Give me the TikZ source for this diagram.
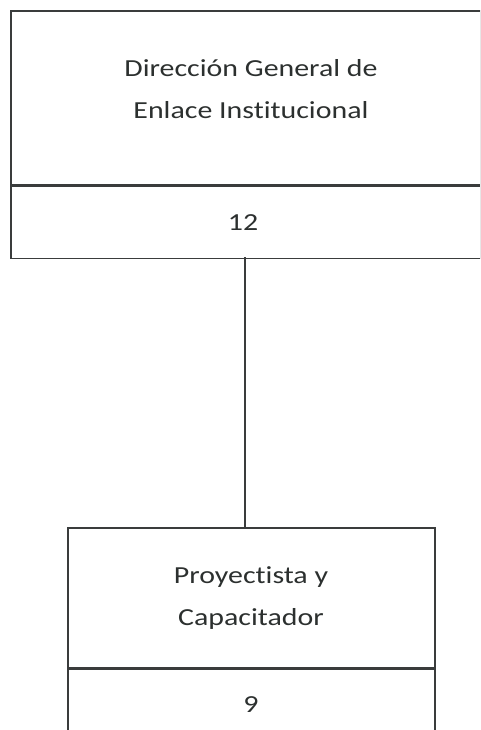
\documentclass[tikz,border=0pt]{standalone}
\usepackage{fontspec}
\setmainfont{Carlito}[FakeStretch=1.22, Ligatures=NoCommon]
\usepackage{xcolor}
\usepackage{tikz}
\definecolor{boxLine}{HTML}{3A3C3C}
\definecolor{boxText}{HTML}{2C302F}
\begin{document}
\begin{tikzpicture}[x=1pt,y=-1pt,
			cellBox/.style={shape=rectangle, draw=boxLine, line width=1.6pt, inner sep=0pt},
			cellText/.style={text=boxText, align=center, font=\fontsize{24.5}{42}\selectfont, inner sep=0pt},
			linkLine/.style={draw=boxLine, line width=1.6pt}]
\useasboundingbox (0,0) rectangle (480,730);
\clip (0,0) rectangle (480,730);
  % Direccion General
  \node [cellBox, minimum width=470, minimum height=174] (dgeiTop) at (246,98) {};
  \node [cellBox, minimum width=470, minimum height=72, anchor=north] (dgeiBottom) at (dgeiTop.south) {};
  \node [cellText] (dgeiName) at (251,89) {Dirección General de\\Enlace Institucional};
  \node [cellText] (dgeiCount) at (243,223) {12};
  % Proyectista
  \node [cellBox, minimum width=367, minimum height=140] (proyTop) at (251.5,598) {};
  \node [cellBox, minimum width=367, minimum height=72, anchor=north] (proyBottom) at (proyTop.south) {};
  \node [cellText] (proyName) at (251,598) {Proyectista y\\Capacitador};
  \node [cellText] (proyCount) at (251,705) {9};
  % link
  \coordinate (linkTop) at (245,257);
  \draw [linkLine] (linkTop) -- (linkTop |- proyTop.north);
\end{tikzpicture}
\end{document}
